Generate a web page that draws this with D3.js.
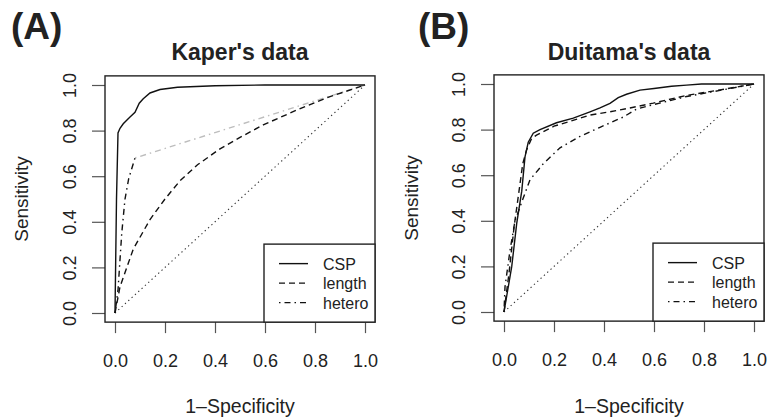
<!DOCTYPE html>
<html>
<head>
<meta charset="utf-8">
<script src="https://cdn.jsdelivr.net/npm/d3@7"></script>
<style>
  body { margin: 0; background: #fff; }
  text { font-family: "Liberation Sans", Arial, sans-serif; fill: #222; }
</style>
</head>
<body>
<div id="chart"></div>
<script>
// data: ROC curves (x = 1-specificity, y = sensitivity)
var tickValues = [0, 0.2, 0.4, 0.6, 0.8, 1.0];
var seriesNames = ["CSP", "length", "hetero"];

// Kaper's data
var kaperCspX = [0, 0.006, 0.012, 0.02, 0.033, 0.06, 0.08, 0.097, 0.113, 0.14, 0.18, 0.25, 0.4, 0.6, 1];
var kaperCspY = [0, 0.5, 0.79, 0.81, 0.83, 0.86, 0.88, 0.92, 0.94, 0.965, 0.98, 0.99, 0.997, 1, 1];
var kaperLengthX = [0, 0.02, 0.073, 0.14, 0.2, 0.26, 0.33, 0.42, 0.5, 0.593, 0.727, 0.86, 1];
var kaperLengthY = [0, 0.115, 0.28, 0.41, 0.5, 0.58, 0.65, 0.72, 0.77, 0.825, 0.89, 0.949, 1];
var kaperHeteroX = [0, 0.012, 0.027, 0.04, 0.055, 0.08, 1];
var kaperHeteroY = [0, 0.1, 0.35, 0.5, 0.59, 0.68, 1];

// Duitama's data
var duitamaCspX = [0, 0.031, 0.051, 0.071, 0.084, 0.097, 0.117, 0.144, 0.21, 0.277, 0.344, 0.384, 0.424, 0.457, 0.49, 0.544, 0.6, 0.67, 0.73, 0.79, 1];
var duitamaCspY = [0, 0.2, 0.39, 0.53, 0.68, 0.745, 0.784, 0.8, 0.83, 0.85, 0.878, 0.895, 0.915, 0.94, 0.955, 0.973, 0.98, 0.99, 0.995, 1, 1];
var duitamaLengthX = [0, 0.02, 0.04, 0.06, 0.075, 0.09, 0.11, 0.13, 0.2, 0.26, 0.344, 0.424, 0.504, 0.597, 0.73, 0.864, 1];
var duitamaLengthY = [0, 0.17, 0.37, 0.53, 0.65, 0.71, 0.76, 0.776, 0.815, 0.835, 0.864, 0.878, 0.895, 0.916, 0.95, 0.974, 1];
var duitamaHeteroX = [0, 0.004, 0.024, 0.044, 0.077, 0.104, 0.157, 0.224, 0.304, 0.384, 0.477, 0.53, 0.6, 0.73, 0.864, 1];
var duitamaHeteroY = [0, 0.11, 0.27, 0.4, 0.5, 0.58, 0.65, 0.72, 0.77, 0.81, 0.855, 0.89, 0.91, 0.945, 0.972, 1];

// svg container
var svgWidth = 771;
var svgHeight = 418;

var svg = d3.select("#chart")
            .append("svg")
            .attr("width", svgWidth)
            .attr("height", svgHeight);

svg.append("rect")
   .attr("width", svgWidth)
   .attr("height", svgHeight)
   .attr("fill", "#fff");

// line styles, like R's lty 1, 2, 4 and the dotted diagonal (lty 3)
var dashes = ["none", "6,4", "1.5,4,6,4"];

function zip(xs, ys) {
    return xs.map((x, i) => [x, ys[i]]);
}

function drawPanel(p) {
    // plot region: 0..1 maps to the tick span, box is 4% wider on each side (R style)
    var xScale = d3.scaleLinear().domain([0, 1]).range([p.x0, p.x1]);
    var yScale = d3.scaleLinear().domain([0, 1]).range([p.y0, p.y1]);
    var padX = (p.x1 - p.x0) * 0.04;
    var padY = (p.y0 - p.y1) * 0.04;
    var boxL = p.x0 - padX, boxR = p.x1 + padX;
    var boxT = p.y1 - padY, boxB = p.y0 + padY;

    var g = svg.append("g");

    // panel letter and title
    g.append("text")
     .attr("x", p.letterX)
     .attr("y", 39)
     .attr("font-size", 37)
     .attr("font-weight", "bold")
     .attr("fill", "#111")
     .text(p.letter);

    g.append("text")
     .attr("x", (boxL + boxR) / 2)
     .attr("y", 60)
     .attr("text-anchor", "middle")
     .attr("font-size", 23)
     .attr("font-weight", "bold")
     .text(p.title);

    // x axis
    var xAxis = d3.axisBottom(xScale).tickValues(tickValues).tickSize(11)
                  .tickFormat(d3.format(".1f"));
    var gx = g.append("g")
              .attr("transform", `translate(0, ${boxB})`)
              .call(xAxis);
    gx.select(".domain").remove();
    gx.selectAll(".tick line").attr("stroke", "#555").attr("stroke-width", 1.2);
    gx.selectAll(".tick text")
      .attr("y", 45).attr("dy", 0)
      .attr("font-size", 18)
      .attr("font-family", "Liberation Sans")
      .attr("fill", "#222");

    // y axis, labels turned like R's default las = 0
    var yAxis = d3.axisLeft(yScale).tickValues(tickValues).tickSize(13)
                  .tickFormat(d3.format(".1f"));
    var gy = g.append("g")
              .attr("transform", `translate(${boxL}, 0)`)
              .call(yAxis);
    gy.select(".domain").remove();
    gy.selectAll(".tick line").attr("stroke", "#555").attr("stroke-width", 1.2);
    gy.selectAll(".tick text")
      .attr("transform", "rotate(-90)")
      .attr("x", 0).attr("y", -29).attr("dy", 0)
      .attr("text-anchor", "middle")
      .attr("font-size", 18)
      .attr("font-family", "Liberation Sans")
      .attr("fill", "#222");

    // axis titles
    g.append("text")
     .attr("x", (boxL + boxR) / 2)
     .attr("y", 413)
     .attr("text-anchor", "middle")
     .attr("font-size", 19.5)
     .text("1\u2013Specificity");

    g.append("text")
     .attr("transform", `translate(${p.ylabX}, ${(boxT + boxB) / 2}) rotate(-90)`)
     .attr("text-anchor", "middle")
     .attr("font-size", 19)
     .text("Sensitivity");

    var line = d3.line()
                 .x(d => xScale(d[0]))
                 .y(d => yScale(d[1]));

    // chance diagonal
    g.append("path")
     .attr("d", line([[0, 0], [1, 1]]))
     .attr("fill", "none")
     .attr("stroke", "#333")
     .attr("stroke-width", 1.1)
     .attr("stroke-dasharray", "1.3,3.2");

    // ROC curves (drawn hetero, length, CSP so CSP sits on top)
    p.series.slice().reverse().forEach(function(s) {
        var pts = zip(s.x, s.y);
        var cut = s.greyFrom != null ? s.greyFrom : pts.length - 1;
        if (cut < pts.length - 1) {
            g.append("path")
             .attr("d", line(pts.slice(cut)))
             .attr("fill", "none")
             .attr("stroke", "#bdbdbd")
             .attr("stroke-width", 1.4)
             .attr("stroke-dasharray", dashes[s.lty]);
        }
        g.append("path")
         .attr("d", line(pts.slice(0, cut + 1)))
         .attr("fill", "none")
         .attr("stroke", "#111")
         .attr("stroke-width", 1.4)
         .attr("stroke-dasharray", dashes[s.lty]);
    });

    // plot box
    g.append("rect")
     .attr("x", boxL).attr("y", boxT)
     .attr("width", boxR - boxL).attr("height", boxB - boxT)
     .attr("fill", "none")
     .attr("stroke", "#222")
     .attr("stroke-width", 1.4);

    // legend in the bottom right corner
    var legW = 111, legH = 78;
    var leg = g.append("g")
               .attr("transform", `translate(${boxR - legW}, ${boxB - legH})`);
    leg.append("rect")
       .attr("width", legW).attr("height", legH)
       .attr("fill", "#fff")
       .attr("stroke", "#222")
       .attr("stroke-width", 1.4);
    seriesNames.forEach(function(name, i) {
        var yy = 19.5 + i * 19.5;
        leg.append("line")
           .attr("x1", 15).attr("x2", 44)
           .attr("y1", yy).attr("y2", yy)
           .attr("stroke", "#111")
           .attr("stroke-width", 1.4)
           .attr("stroke-dasharray", dashes[i]);
        leg.append("text")
           .attr("x", 59).attr("y", yy + 6)
           .attr("font-size", 16)
           .text(name);
    });
}

drawPanel({
    letter: "(A)", letterX: 11, title: "Kaper's data",
    x0: 115, x1: 365, y0: 313, y1: 85, ylabX: 28,
    series: [
        { x: kaperCspX, y: kaperCspY, lty: 0 },
        { x: kaperLengthX, y: kaperLengthY, lty: 1 },
        { x: kaperHeteroX, y: kaperHeteroY, lty: 2, greyFrom: 5 }
    ]
});

drawPanel({
    letter: "(B)", letterX: 418, title: "Duitama's data",
    x0: 504, x1: 754, y0: 312, y1: 84, ylabX: 418,
    series: [
        { x: duitamaCspX, y: duitamaCspY, lty: 0 },
        { x: duitamaLengthX, y: duitamaLengthY, lty: 1 },
        { x: duitamaHeteroX, y: duitamaHeteroY, lty: 2 }
    ]
});
</script>
</body>
</html>
